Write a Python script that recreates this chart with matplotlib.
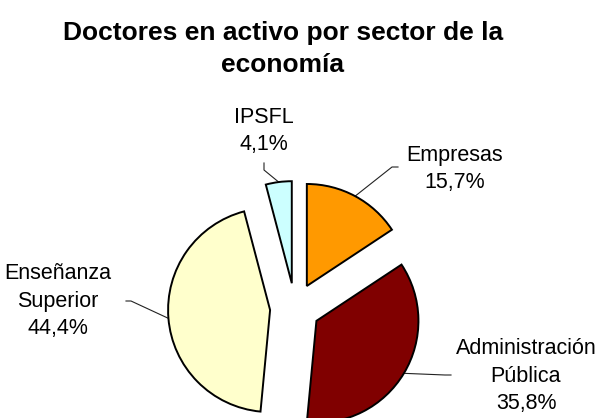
import matplotlib
matplotlib.use("Agg")
import matplotlib.pyplot as plt
import numpy as np

plt.rcParams['font.family'] = ['Liberation Sans', 'DejaVu Sans']

# Data
sectors = ['Empresas', 'Administración\nPública', 'Enseñanza\nSuperior', 'IPSFL']
shares = [15.7, 35.8, 44.4, 4.1]
colors = ['#FF9900', '#800000', '#FFFFCC', '#CCFFFF']

# label placement in pixels (center x, last-line baseline y) and leader elbows
label_pos = [(455, 188), (526, 409), (58, 334), (264, 150)]
leader_pts = [[(392, 167), (398, 167)],
              [(445, 375), (451, 375)],
              [(131, 301), (126, 301)],
              [(264, 170), (264, 163)]]

W, H = 600, 418
CX, CY, R = 295, 308, 102   # pie centre / radius in pixels
explode = 0.245


def px(x, y):
    # pixel -> data coords (pie radius = 1)
    return (x - CX) / R, (CY - y) / R


fig = plt.figure(figsize=(W / 100, H / 100), dpi=100)
ax = fig.add_axes([0, 0, 1, 1])

wedges, _ = ax.pie(shares, colors=colors, startangle=90, counterclock=False,
                   explode=[explode] * len(shares), radius=1,
                   wedgeprops=dict(edgecolor='black', linewidth=1.4))

ax.set_aspect('auto')
ax.set_xlim(-CX / R, (W - CX) / R)
ax.set_ylim((CY - H) / R, CY / R)
ax.axis('off')

for w, name, val, (tx, ty), pts in zip(wedges, sectors, shares, label_pos, leader_pts):
    mid = np.deg2rad((w.theta1 + w.theta2) / 2)
    ax0 = w.center[0] + np.cos(mid)
    ay0 = w.center[1] + np.sin(mid)
    xs = [ax0] + [px(*p)[0] for p in pts]
    ys = [ay0] + [px(*p)[1] for p in pts]
    ax.plot(xs, ys, color='#222222', linewidth=0.8, zorder=0)
    lx, ly = px(tx, ty)
    txt = name + '\n' + ('%.1f%%' % val).replace('.', ',')
    ax.text(lx, ly, txt, ha='center', va='baseline', multialignment='center',
            fontsize=15.5, linespacing=1.4)

fig.text(283 / W, 1 - 72 / H, 'Doctores en activo por sector de la\neconomía',
         ha='center', va='baseline', fontsize=19, fontweight='bold',
         linespacing=1.4)

fig.savefig('out.png', dpi=100)
